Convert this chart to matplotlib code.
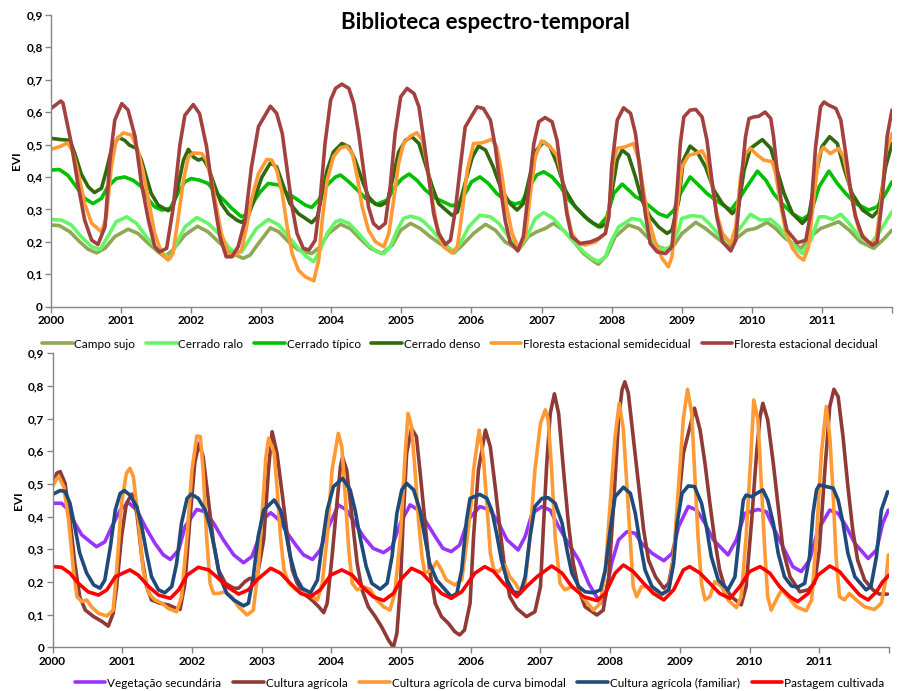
import matplotlib
matplotlib.use("Agg")
import matplotlib.pyplot as plt

# ---------------- TOP CHART DATA (EVI) ----------------
campo_t = [2000.00,2000.12,2000.27,2000.41,2000.53,2000.65,2000.77,2000.91,2001.10,2001.24,2001.39,2001.53,2001.62,2001.74,2001.91,2002.09,2002.24,2002.39,2002.55,2002.74,2002.84,2002.96,
           2003.13,2003.25,2003.39,2003.53,2003.72,2003.84,2003.96,2004.13,2004.27,2004.41,2004.56,2004.72,2004.87,2004.99,2005.13,2005.27,2005.41,2005.58,2005.75,2005.87,
           2006.03,2006.20,2006.34,2006.48,2006.67,2006.81,2006.93,2007.05,2007.17,2007.31,2007.46,2007.60,2007.72,2007.81,2007.93,2008.05,2008.24,2008.39,2008.53,2008.67,2008.77,2008.89,
           2009.00,2009.20,2009.34,2009.48,2009.67,2009.81,2009.93,2010.05,2010.22,2010.34,2010.48,2010.70,2010.84,2010.98,2011.24,2011.39,2011.55,2011.74,2011.89,2012.00]
campo_v = [0.252,0.250,0.231,0.200,0.177,0.166,0.180,0.216,0.239,0.226,0.195,0.169,0.154,0.175,0.221,0.248,0.231,0.200,0.169,0.149,0.159,0.195,
           0.243,0.231,0.200,0.175,0.164,0.185,0.226,0.254,0.241,0.210,0.180,0.164,0.190,0.236,0.257,0.241,0.216,0.190,0.166,0.190,
           0.226,0.254,0.236,0.200,0.175,0.216,0.231,0.241,0.257,0.236,0.200,0.164,0.144,0.131,0.159,0.216,0.252,0.241,0.210,0.185,0.177,0.190,
           0.225,0.260,0.241,0.216,0.185,0.216,0.236,0.241,0.260,0.241,0.210,0.180,0.216,0.241,0.262,0.236,0.200,0.180,0.210,0.236]

ralo_t = [2000.00,2000.15,2000.29,2000.43,2000.58,2000.70,2000.81,2000.93,2001.08,2001.22,2001.36,2001.50,2001.60,2001.70,2001.79,2001.91,2002.08,2002.24,2002.39,2002.53,2002.62,2002.72,2002.81,2002.93,
          2003.10,2003.25,2003.39,2003.53,2003.65,2003.75,2003.84,2003.94,2004.06,2004.13,2004.25,2004.39,2004.53,2004.65,2004.75,2004.84,2004.94,2005.03,2005.13,2005.25,2005.32,2005.44,2005.58,2005.75,2005.84,2005.96,
          2006.12,2006.27,2006.39,2006.53,2006.67,2006.79,2006.91,2007.03,2007.17,2007.31,2007.46,2007.60,2007.72,2007.81,2007.91,2008.00,2008.10,2008.29,2008.41,2008.50,2008.60,2008.72,2008.84,2008.96,
          2009.00,2009.15,2009.29,2009.39,2009.53,2009.70,2009.81,2009.98,2010.12,2010.27,2010.39,2010.53,2010.72,2010.84,2010.96,2011.05,2011.15,2011.27,2011.39,2011.53,2011.70,2011.81,2012.00]
ralo_v = [0.269,0.267,0.252,0.216,0.185,0.177,0.216,0.262,0.277,0.257,0.216,0.180,0.164,0.149,0.195,0.246,0.275,0.257,0.226,0.185,0.166,0.169,0.200,0.241,
          0.269,0.252,0.216,0.180,0.154,0.139,0.175,0.226,0.262,0.267,0.257,0.226,0.190,0.169,0.164,0.185,0.236,0.272,0.279,0.272,0.262,0.236,0.200,0.169,0.195,0.246,
          0.282,0.277,0.257,0.216,0.180,0.216,0.272,0.290,0.272,0.236,0.200,0.169,0.149,0.139,0.154,0.205,0.246,0.272,0.267,0.236,0.200,0.175,0.185,0.240,
          0.272,0.281,0.277,0.257,0.221,0.195,0.236,0.285,0.267,0.269,0.246,0.205,0.164,0.205,0.277,0.277,0.269,0.285,0.257,0.216,0.195,0.226,0.293]

tipico_t = [2000.00,2000.12,2000.24,2000.36,2000.48,2000.60,2000.72,2000.81,2000.93,2001.05,2001.17,2001.29,2001.39,2001.48,2001.58,2001.70,2001.81,2001.91,2002.00,2002.12,2002.24,2002.34,2002.46,2002.58,2002.72,2002.81,2002.91,
            2002.99,2003.10,2003.25,2003.37,2003.49,2003.63,2003.72,2003.82,2003.94,2004.06,2004.13,2004.25,2004.37,2004.49,2004.65,2004.80,2004.91,2005.01,2005.11,2005.22,2005.34,2005.49,2005.72,2005.82,2005.94,
            2006.00,2006.12,2006.24,2006.36,2006.48,2006.62,2006.72,2006.84,2006.93,2007.03,2007.15,2007.27,2007.39,2007.53,2007.67,2007.81,2007.93,2008.03,2008.15,2008.27,2008.34,2008.43,2008.55,2008.67,2008.79,2008.89,2008.98,
            2009.12,2009.24,2009.36,2009.48,2009.70,2009.81,2009.93,2010.08,2010.20,2010.31,2010.43,2010.58,2010.72,2010.84,2010.96,2011.10,2011.22,2011.34,2011.48,2011.67,2011.79,2011.91,2012.00]
tipico_v = [0.421,0.423,0.405,0.370,0.334,0.318,0.334,0.370,0.395,0.400,0.390,0.370,0.330,0.308,0.298,0.303,0.349,0.385,0.395,0.390,0.380,0.354,0.330,0.303,0.277,0.287,0.330,
            0.355,0.380,0.375,0.349,0.334,0.313,0.306,0.329,0.375,0.400,0.406,0.385,0.360,0.334,0.316,0.329,0.370,0.395,0.409,0.390,0.360,0.334,0.311,0.318,0.360,
            0.385,0.400,0.380,0.349,0.329,0.316,0.323,0.375,0.406,0.416,0.400,0.370,0.329,0.298,0.267,0.246,0.277,0.349,0.378,0.354,0.339,0.329,0.308,0.287,0.277,0.298,0.349,
            0.400,0.375,0.349,0.329,0.298,0.329,0.370,0.418,0.390,0.349,0.318,0.287,0.269,0.287,0.370,0.418,0.380,0.349,0.318,0.298,0.308,0.349,0.385]

denso_t = [2000.00,2000.15,2000.27,2000.34,2000.43,2000.53,2000.62,2000.72,2000.79,2000.86,2000.96,2001.05,2001.12,2001.22,2001.29,2001.36,2001.43,2001.53,2001.67,2001.74,2001.81,2001.89,2001.96,2002.03,2002.10,2002.17,2002.24,2002.34,2002.43,2002.53,2002.65,2002.72,2002.81,2002.91,
           2003.01,2003.13,2003.22,2003.32,2003.41,2003.53,2003.72,2003.80,2003.87,2003.94,2004.03,2004.15,2004.25,2004.34,2004.44,2004.53,2004.63,2004.70,2004.80,2004.87,2004.96,2005.06,2005.15,2005.25,2005.34,2005.44,2005.53,2005.72,2005.80,2005.87,2005.96,
           2006.01,2006.10,2006.20,2006.31,2006.43,2006.55,2006.65,2006.74,2006.84,2006.93,2007.03,2007.12,2007.22,2007.34,2007.48,2007.62,2007.74,2007.84,2007.93,2008.00,2008.08,2008.15,2008.24,2008.34,2008.43,2008.55,2008.67,2008.79,2008.86,2008.96,
           2009.02,2009.12,2009.22,2009.34,2009.46,2009.58,2009.72,2009.81,2009.89,2009.98,2010.15,2010.27,2010.36,2010.46,2010.58,2010.72,2010.81,2010.91,2011.00,2011.11,2011.22,2011.31,2011.43,2011.58,2011.72,2011.81,2011.91,2012.00]
denso_v = [0.519,0.515,0.513,0.472,0.410,0.370,0.352,0.365,0.420,0.483,0.522,0.513,0.498,0.488,0.452,0.400,0.349,0.313,0.296,0.308,0.370,0.452,0.485,0.462,0.452,0.457,0.431,0.370,0.318,0.287,0.267,0.260,0.277,0.339,
           0.400,0.443,0.431,0.370,0.318,0.287,0.259,0.277,0.349,0.421,0.477,0.503,0.493,0.452,0.390,0.339,0.316,0.312,0.323,0.390,0.477,0.513,0.524,0.503,0.441,0.370,0.318,0.282,0.292,0.349,0.421,
           0.460,0.495,0.483,0.431,0.359,0.318,0.298,0.318,0.410,0.483,0.508,0.493,0.441,0.359,0.308,0.277,0.257,0.246,0.257,0.349,0.452,0.483,0.467,0.400,0.329,0.277,0.246,0.226,0.236,0.329,
           0.450,0.495,0.477,0.431,0.359,0.318,0.287,0.308,0.421,0.488,0.515,0.488,0.421,0.349,0.287,0.257,0.277,0.400,0.493,0.524,0.503,0.431,0.349,0.298,0.277,0.298,0.431,0.503]

semidec_t = [2000.00,2000.12,2000.24,2000.31,2000.39,2000.48,2000.58,2000.72,2000.79,2000.86,2000.93,2001.03,2001.15,2001.24,2001.31,2001.39,2001.48,2001.58,2001.67,2001.74,2001.81,2001.89,2001.96,2002.03,2002.15,2002.22,2002.29,2002.36,2002.43,2002.53,2002.60,2002.72,2002.79,2002.86,2002.96,
             2003.08,2003.15,2003.22,2003.30,2003.37,2003.44,2003.53,2003.63,2003.75,2003.82,2003.87,2003.94,2004.03,2004.13,2004.22,2004.30,2004.37,2004.44,2004.53,2004.63,2004.75,2004.82,2004.89,2004.96,2005.03,2005.13,2005.22,2005.30,2005.37,2005.44,2005.51,2005.60,2005.72,2005.80,2005.87,2005.94,
             2006.03,2006.15,2006.29,2006.36,2006.43,2006.50,2006.58,2006.67,2006.77,2006.84,2006.91,2007.00,2007.10,2007.22,2007.29,2007.36,2007.43,2007.53,2007.62,2007.77,2007.91,2007.96,2008.03,2008.08,2008.20,2008.31,2008.39,2008.46,2008.53,2008.62,2008.72,2008.81,2008.86,2008.93,2009.00,
             2009.10,2009.20,2009.29,2009.36,2009.43,2009.50,2009.58,2009.70,2009.77,2009.84,2009.91,2009.98,2010.08,2010.17,2010.29,2010.34,2010.41,2010.48,2010.58,2010.67,2010.74,2010.81,2010.89,2010.96,2011.02,2011.12,2011.24,2011.31,2011.39,2011.46,2011.53,2011.67,2011.77,2011.84,2011.91,2012.00]
semidec_v = [0.485,0.493,0.505,0.478,0.410,0.318,0.257,0.231,0.277,0.430,0.513,0.536,0.529,0.483,0.420,0.330,0.226,0.164,0.144,0.164,0.267,0.390,0.462,0.474,0.472,0.452,0.390,0.308,0.226,0.164,0.156,0.175,0.246,0.330,0.410,
             0.454,0.452,0.421,0.349,0.246,0.164,0.113,0.092,0.080,0.144,0.267,0.390,0.462,0.490,0.495,0.472,0.400,0.308,0.236,0.200,0.185,0.226,0.329,0.441,0.503,0.526,0.536,0.513,0.431,0.329,0.246,0.185,0.166,0.185,0.298,0.421,
             0.503,0.505,0.516,0.493,0.410,0.308,0.226,0.180,0.216,0.349,0.462,0.511,0.498,0.467,0.400,0.298,0.226,0.195,0.190,0.200,0.226,0.298,0.452,0.488,0.493,0.503,0.452,0.349,0.267,0.200,0.149,0.123,0.154,0.298,0.430,
             0.467,0.472,0.481,0.452,0.380,0.287,0.226,0.195,0.246,0.400,0.472,0.488,0.467,0.452,0.447,0.410,0.318,0.236,0.180,0.154,0.144,0.185,0.349,0.467,0.491,0.472,0.488,0.462,0.380,0.298,0.236,0.195,0.200,0.318,0.472,0.534]

decid_t = [2000.00,2000.14,2000.17,2000.29,2000.39,2000.48,2000.58,2000.67,2000.77,2000.84,2000.91,2001.01,2001.10,2001.20,2001.29,2001.39,2001.48,2001.55,2001.65,2001.74,2001.84,2001.91,2002.03,2002.12,2002.22,2002.31,2002.41,2002.50,2002.58,2002.67,2002.77,2002.86,2002.96,
           2003.13,2003.22,2003.30,2003.37,2003.44,2003.51,2003.60,2003.68,2003.77,2003.84,2003.91,2003.99,2004.06,2004.15,2004.25,2004.32,2004.39,2004.46,2004.53,2004.60,2004.68,2004.77,2004.84,2004.91,2004.99,2005.08,2005.18,2005.25,2005.32,2005.39,2005.46,2005.53,2005.63,2005.70,2005.77,2005.84,2005.91,
           2006.08,2006.17,2006.27,2006.34,2006.41,2006.48,2006.55,2006.66,2006.74,2006.81,2006.89,2006.96,2007.05,2007.15,2007.22,2007.29,2007.36,2007.43,2007.55,2007.70,2007.81,2007.91,2007.96,2008.00,2008.08,2008.17,2008.27,2008.34,2008.41,2008.48,2008.55,2008.65,2008.77,2008.86,2008.93,2008.98,
           2009.03,2009.12,2009.20,2009.29,2009.36,2009.43,2009.50,2009.58,2009.70,2009.77,2009.84,2009.91,2009.96,2010.03,2010.10,2010.19,2010.27,2010.31,2010.36,2010.43,2010.50,2010.65,2010.77,2010.84,2010.91,2010.98,2011.03,2011.10,2011.20,2011.27,2011.34,2011.41,2011.48,2011.58,2011.72,2011.79,2011.86,2011.93,2012.00]
decid_v = [0.611,0.634,0.628,0.503,0.370,0.267,0.205,0.192,0.246,0.450,0.575,0.626,0.606,0.524,0.380,0.267,0.185,0.169,0.180,0.300,0.500,0.590,0.623,0.595,0.493,0.349,0.216,0.154,0.154,0.185,0.267,0.430,0.555,
           0.618,0.596,0.534,0.421,0.308,0.226,0.180,0.175,0.205,0.329,0.503,0.637,0.673,0.686,0.673,0.626,0.534,0.421,0.308,0.257,0.241,0.257,0.370,0.534,0.647,0.673,0.657,0.616,0.513,0.400,0.287,0.226,0.192,0.205,0.298,0.431,0.554,
           0.616,0.611,0.575,0.493,0.370,0.267,0.200,0.172,0.216,0.349,0.503,0.570,0.583,0.570,0.513,0.400,0.287,0.216,0.195,0.200,0.210,0.226,0.277,0.431,0.575,0.613,0.596,0.534,0.411,0.287,0.195,0.169,0.164,0.185,0.349,0.503,
           0.585,0.606,0.608,0.585,0.513,0.390,0.277,0.200,0.172,0.205,0.370,0.524,0.580,0.585,0.587,0.600,0.580,0.524,0.421,0.308,0.236,0.197,0.205,0.287,0.493,0.616,0.631,0.621,0.611,0.575,0.472,0.359,0.277,0.216,0.190,0.200,0.329,0.524,0.606]

# ---------------- BOTTOM CHART DATA (EVI) ----------------
vegsec_t = [2000.01,2000.13,2000.23,2000.32,2000.42,2000.63,2000.75,2000.85,2000.97,2001.09,2001.21,2001.33,2001.47,2001.59,2001.69,2001.81,2001.90,2002.07,2002.19,2002.31,2002.45,2002.60,2002.74,2002.86,2002.95,
            2003.01,2003.13,2003.25,2003.37,2003.49,2003.60,2003.73,2003.84,2003.96,2004.10,2004.22,2004.34,2004.46,2004.60,2004.75,2004.87,2004.99,2005.13,2005.25,2005.37,2005.49,2005.60,2005.72,2005.84,2005.96,
            2006.13,2006.28,2006.40,2006.52,2006.68,2006.78,2006.88,2007.02,2007.14,2007.26,2007.40,2007.55,2007.69,2007.86,2007.93,2008.02,2008.12,2008.24,2008.36,2008.45,2008.60,2008.77,2008.89,2008.98,
            2009.12,2009.24,2009.36,2009.48,2009.69,2009.81,2009.93,2010.12,2010.24,2010.36,2010.50,2010.62,2010.74,2010.86,2010.98,2011.15,2011.27,2011.39,2011.51,2011.70,2011.82,2011.91,2011.99]
vegsec_v = [0.441,0.441,0.420,0.380,0.344,0.308,0.323,0.369,0.420,0.443,0.420,0.369,0.318,0.283,0.269,0.298,0.369,0.422,0.415,0.380,0.329,0.283,0.259,0.278,0.329,
            0.390,0.412,0.390,0.349,0.313,0.283,0.269,0.298,0.369,0.436,0.420,0.380,0.339,0.303,0.290,0.308,0.380,0.436,0.420,0.380,0.339,0.303,0.293,0.313,0.390,
            0.431,0.420,0.380,0.329,0.298,0.339,0.410,0.431,0.420,0.369,0.318,0.267,0.196,0.135,0.155,0.257,0.329,0.354,0.349,0.318,0.288,0.265,0.288,0.369,
            0.431,0.420,0.380,0.329,0.283,0.329,0.410,0.422,0.415,0.359,0.298,0.247,0.232,0.267,0.359,0.420,0.410,0.369,0.318,0.272,0.298,0.380,0.420]

agri_t = [2000.01,2000.06,2000.11,2000.18,2000.25,2000.32,2000.39,2000.47,2000.59,2000.71,2000.80,2000.87,2000.92,2000.99,2001.06,2001.14,2001.21,2001.28,2001.35,2001.42,2001.54,2001.66,2001.78,2001.83,2001.90,2001.97,2002.04,2002.10,2002.16,2002.24,2002.31,2002.38,2002.48,2002.60,2002.67,2002.76,2002.83,2002.93,
          2003.03,2003.10,2003.15,2003.22,2003.30,2003.37,2003.44,2003.51,2003.60,2003.72,2003.82,2003.89,2003.94,2004.01,2004.08,2004.13,2004.16,2004.22,2004.30,2004.37,2004.44,2004.53,2004.63,2004.72,2004.82,2004.89,2004.94,2004.99,2005.03,2005.08,2005.15,2005.22,2005.27,2005.34,2005.41,2005.49,2005.58,2005.68,2005.77,2005.84,2005.91,2005.99,
          2006.04,2006.11,2006.21,2006.28,2006.35,2006.42,2006.49,2006.56,2006.66,2006.80,2006.92,2007.00,2007.04,2007.09,2007.14,2007.20,2007.26,2007.33,2007.40,2007.47,2007.55,2007.64,2007.81,2007.90,2007.98,2008.05,2008.12,2008.17,2008.21,2008.26,2008.33,2008.41,2008.48,2008.55,2008.65,2008.77,2008.84,2008.91,2008.98,2009.05,
          2009.21,2009.29,2009.36,2009.43,2009.50,2009.57,2009.64,2009.74,2009.88,2009.95,2010.03,2010.10,2010.15,2010.19,2010.26,2010.34,2010.41,2010.48,2010.58,2010.72,2010.84,2010.93,2011.00,2011.08,2011.15,2011.21,2011.27,2011.34,2011.41,2011.48,2011.55,2011.65,2011.77,2011.86,2011.98]
agri_v = [0.502,0.533,0.538,0.502,0.390,0.257,0.155,0.114,0.094,0.079,0.065,0.104,0.186,0.339,0.441,0.469,0.410,0.278,0.186,0.145,0.135,0.130,0.119,0.116,0.196,0.390,0.563,0.624,0.584,0.441,0.318,0.237,0.196,0.181,0.181,0.201,0.211,0.210,
          0.330,0.550,0.660,0.594,0.461,0.339,0.237,0.196,0.165,0.145,0.124,0.106,0.135,0.278,0.441,0.553,0.582,0.543,0.390,0.257,0.176,0.124,0.094,0.063,0.022,0.000,0.043,0.186,0.390,0.594,0.670,0.645,0.543,0.390,0.237,0.135,0.094,0.073,0.048,0.038,0.053,0.135,
          0.339,0.543,0.665,0.614,0.492,0.359,0.237,0.155,0.119,0.094,0.109,0.186,0.359,0.563,0.716,0.776,0.716,0.543,0.380,0.257,0.176,0.124,0.099,0.114,0.216,0.441,0.696,0.788,0.813,0.778,0.645,0.492,0.359,0.267,0.216,0.181,0.196,0.278,0.441,0.594,
          0.732,0.665,0.563,0.441,0.329,0.237,0.186,0.155,0.130,0.186,0.390,0.594,0.706,0.747,0.696,0.563,0.431,0.298,0.216,0.170,0.176,0.196,0.298,0.543,0.737,0.790,0.767,0.645,0.492,0.359,0.267,0.206,0.176,0.163,0.163]

bimod_t = [2000.00,2000.06,2000.09,2000.16,2000.23,2000.30,2000.35,2000.42,2000.49,2000.56,2000.66,2000.78,2000.87,2000.92,2000.99,2001.06,2001.11,2001.16,2001.23,2001.30,2001.38,2001.47,2001.57,2001.66,2001.78,2001.85,2001.93,2002.00,2002.07,2002.12,2002.16,2002.21,2002.26,2002.31,2002.38,2002.48,2002.57,2002.67,2002.79,2002.88,2002.95,2003.02,
           2003.06,2003.10,2003.18,2003.22,2003.27,2003.32,2003.39,2003.49,2003.60,2003.72,2003.80,2003.87,2003.94,2004.01,2004.10,2004.15,2004.20,2004.25,2004.30,2004.37,2004.46,2004.56,2004.65,2004.75,2004.84,2004.91,2004.99,2005.06,2005.10,2005.15,2005.20,2005.25,2005.30,2005.34,2005.44,2005.51,2005.58,2005.65,2005.77,2005.87,2005.94,2006.01,
           2006.04,2006.12,2006.18,2006.23,2006.28,2006.33,2006.40,2006.49,2006.56,2006.64,2006.71,2006.78,2006.85,2006.92,2007.00,2007.07,2007.11,2007.16,2007.21,2007.28,2007.35,2007.45,2007.55,2007.64,2007.76,2007.86,2007.93,2008.00,2008.07,2008.13,2008.19,2008.24,2008.29,2008.33,2008.38,2008.45,2008.53,2008.62,2008.74,2008.84,2008.91,2008.98,
           2009.05,2009.11,2009.17,2009.21,2009.26,2009.31,2009.36,2009.43,2009.50,2009.60,2009.69,2009.81,2009.88,2009.95,2010.02,2010.06,2010.12,2010.17,2010.22,2010.26,2010.31,2010.38,2010.46,2010.55,2010.67,2010.81,2010.89,2010.96,2011.03,2011.10,2011.15,2011.20,2011.24,2011.29,2011.36,2011.43,2011.53,2011.65,2011.79,2011.89,2011.96,2011.99]
bimod_v = [0.492,0.517,0.522,0.492,0.390,0.237,0.155,0.140,0.145,0.124,0.104,0.096,0.114,0.237,0.441,0.533,0.548,0.522,0.390,0.237,0.165,0.145,0.135,0.119,0.109,0.155,0.339,0.543,0.647,0.645,0.543,0.339,0.196,0.165,0.165,0.170,0.155,0.124,0.099,0.114,0.237,0.450,
           0.580,0.640,0.594,0.492,0.339,0.237,0.196,0.176,0.165,0.155,0.145,0.196,0.339,0.543,0.655,0.614,0.461,0.298,0.196,0.176,0.186,0.176,0.145,0.124,0.114,0.165,0.339,0.594,0.716,0.676,0.543,0.390,0.278,0.227,0.237,0.262,0.237,0.206,0.191,0.206,0.318,0.450,
           0.543,0.665,0.584,0.441,0.288,0.237,0.232,0.252,0.216,0.196,0.170,0.196,0.339,0.543,0.686,0.727,0.696,0.543,0.339,0.196,0.176,0.186,0.170,0.145,0.114,0.135,0.237,0.441,0.645,0.747,0.665,0.492,0.318,0.186,0.155,0.186,0.186,0.176,0.160,0.176,0.278,0.492,
           0.700,0.790,0.716,0.543,0.339,0.196,0.145,0.155,0.201,0.186,0.145,0.122,0.155,0.339,0.594,0.757,0.696,0.492,0.288,0.155,0.114,0.145,0.176,0.155,0.124,0.112,0.145,0.339,0.594,0.737,0.645,0.461,0.278,0.155,0.145,0.165,0.145,0.124,0.116,0.135,0.216,0.283]

famil_t = [2000.01,2000.11,2000.18,2000.25,2000.32,2000.39,2000.49,2000.59,2000.68,2000.75,2000.83,2000.90,2000.97,2001.03,2001.11,2001.21,2001.28,2001.35,2001.42,2001.52,2001.61,2001.71,2001.78,2001.85,2001.93,2001.99,2002.09,2002.19,2002.26,2002.33,2002.40,2002.50,2002.60,2002.74,2002.81,2002.88,2002.95,2003.03,
           2003.18,2003.27,2003.34,2003.41,2003.49,2003.58,2003.70,2003.80,2003.87,2003.94,2004.03,2004.16,2004.27,2004.34,2004.41,2004.50,2004.58,2004.70,2004.80,2004.87,2004.94,2005.01,2005.08,2005.18,2005.27,2005.34,2005.41,2005.51,2005.72,2005.80,2005.87,2005.94,
           2005.99,2006.13,2006.23,2006.30,2006.37,2006.44,2006.52,2006.61,2006.71,2006.78,2006.85,2006.92,2007.02,2007.11,2007.21,2007.31,2007.38,2007.45,2007.55,2007.64,2007.76,2007.86,2007.93,2008.00,2008.07,2008.19,2008.29,2008.36,2008.43,2008.50,2008.60,2008.74,2008.84,2008.91,2008.96,2009.03,
           2009.12,2009.21,2009.31,2009.38,2009.45,2009.55,2009.69,2009.79,2009.86,2009.91,2009.95,2010.03,2010.10,2010.19,2010.26,2010.34,2010.41,2010.50,2010.60,2010.69,2010.79,2010.86,2010.91,2010.96,2011.00,2011.10,2011.20,2011.27,2011.34,2011.41,2011.51,2011.67,2011.74,2011.82,2011.89,2011.98]
famil_v = [0.469,0.480,0.477,0.441,0.369,0.288,0.227,0.191,0.181,0.206,0.308,0.420,0.471,0.480,0.466,0.430,0.369,0.288,0.216,0.176,0.167,0.186,0.257,0.380,0.456,0.469,0.456,0.420,0.369,0.298,0.216,0.165,0.145,0.127,0.135,0.216,0.339,0.420,
           0.451,0.420,0.359,0.278,0.216,0.181,0.167,0.206,0.318,0.420,0.492,0.517,0.482,0.420,0.339,0.247,0.196,0.178,0.196,0.278,0.410,0.482,0.502,0.482,0.420,0.339,0.257,0.206,0.155,0.165,0.237,0.390,
           0.456,0.468,0.456,0.420,0.349,0.267,0.206,0.170,0.165,0.216,0.339,0.431,0.456,0.458,0.441,0.380,0.298,0.227,0.186,0.170,0.167,0.176,0.237,0.359,0.461,0.490,0.471,0.410,0.318,0.237,0.186,0.163,0.176,0.257,0.380,0.471,
           0.494,0.492,0.441,0.369,0.278,0.206,0.176,0.216,0.359,0.451,0.466,0.461,0.471,0.482,0.451,0.380,0.288,0.216,0.188,0.184,0.196,0.278,0.410,0.482,0.497,0.492,0.487,0.451,0.380,0.288,0.216,0.176,0.186,0.278,0.420,0.476]

past_t = [2000.01,2000.13,2000.25,2000.37,2000.51,2000.66,2000.78,2000.90,2001.11,2001.23,2001.38,2001.52,2001.69,2001.81,2001.93,2002.09,2002.24,2002.38,2002.50,2002.67,2002.81,2002.93,
          2003.13,2003.27,2003.41,2003.56,2003.70,2003.84,2003.99,2004.15,2004.30,2004.44,2004.60,2004.75,2004.89,2005.01,2005.15,2005.30,2005.44,2005.58,2005.72,2005.87,
          2006.06,2006.20,2006.33,2006.47,2006.66,2006.80,2006.95,2007.16,2007.31,2007.45,2007.62,2007.81,2007.93,2008.07,2008.19,2008.33,2008.48,2008.62,2008.77,2008.91,2009.05,
          2009.14,2009.29,2009.43,2009.57,2009.72,2009.86,2010.00,2010.15,2010.29,2010.43,2010.58,2010.69,2010.84,2010.98,2011.15,2011.29,2011.43,2011.58,2011.70,2011.82,2011.91,2012.00]
past_v = [0.247,0.245,0.227,0.196,0.170,0.160,0.176,0.216,0.237,0.221,0.186,0.160,0.150,0.176,0.221,0.245,0.237,0.211,0.186,0.163,0.176,0.206,
          0.242,0.227,0.196,0.165,0.155,0.176,0.221,0.237,0.221,0.186,0.155,0.143,0.165,0.211,0.242,0.227,0.196,0.165,0.150,0.170,
          0.227,0.247,0.232,0.196,0.155,0.186,0.216,0.249,0.227,0.186,0.155,0.143,0.165,0.227,0.252,0.232,0.196,0.165,0.145,0.176,0.237,
          0.247,0.227,0.196,0.165,0.150,0.186,0.232,0.247,0.227,0.186,0.155,0.140,0.165,0.221,0.249,0.232,0.196,0.160,0.145,0.170,0.201,0.221]

years = list(range(2000, 2013))
year_labels = [str(y) for y in range(2000, 2012)] + [""]
yticks = [0, 0.1, 0.2, 0.3, 0.4, 0.5, 0.6, 0.7, 0.8, 0.9]
ytick_labels = ["0", "0,1", "0,2", "0,3", "0,4", "0,5", "0,6", "0,7", "0,8", "0,9"]

top_series = [
    ("Campo sujo", campo_t, campo_v, "#8FA854"),
    ("Cerrado ralo", ralo_t, ralo_v, "#66F566"),
    ("Cerrado típico", tipico_t, tipico_v, "#00C000"),
    ("Cerrado denso", denso_t, denso_v, "#306A0C"),
    ("Floresta estacional semidecidual", semidec_t, semidec_v, "#FF9A35"),
    ("Floresta estacional decidual", decid_t, decid_v, "#A3413F"),
]
bottom_series = [
    ("Vegetação secundária", vegsec_t, vegsec_v, "#9A34FA"),
    ("Cultura agrícola", agri_t, agri_v, "#903A36"),
    ("Cultura agrícola de curva bimodal", bimod_t, bimod_v, "#FF9A35"),
    ("Cultura agrícola (familiar)", famil_t, famil_v, "#1F4A7C"),
    ("Pastagem cultivada", past_t, past_v, "#FF0000"),
]

plt.rcParams['font.family'] = ['Lato', 'DejaVu Sans']

fig = plt.figure(figsize=(8.98, 6.91), dpi=100)
ax1 = fig.add_axes([0.0568, 0.5561, 0.9365, 0.4226])
ax2 = fig.add_axes([0.0585, 0.0632, 0.9315, 0.4255])

def style(ax):
    ax.set_xlim(2000, 2012)
    ax.set_ylim(0, 0.9)
    for s in ("top", "right"):
        ax.spines[s].set_visible(False)
    for s in ("left", "bottom"):
        ax.spines[s].set_color("#868686")
        ax.spines[s].set_linewidth(1.0)
    ax.set_xticks(years)
    ax.set_xticklabels(year_labels, fontsize=8.5, fontweight="bold")
    ax.set_yticks(yticks)
    ax.set_yticklabels(ytick_labels, fontsize=8.5, fontweight="bold")
    ax.tick_params(axis="both", direction="out", length=4, width=1, color="#868686", pad=2)
    ax.set_ylabel("EVI", fontsize=8.5, fontweight="bold", labelpad=3)

lw = 2.6
h1 = []
for name, t, v, c in top_series:
    ln, = ax1.plot(t, v, color=c, lw=lw, solid_joinstyle="round", solid_capstyle="round", label=name)
    h1.append(ln)
h2 = []
for name, t, v, c in bottom_series:
    ln, = ax2.plot(t, v, color=c, lw=lw, solid_joinstyle="round", solid_capstyle="round", label=name)
    h2.append(ln)

style(ax1)
style(ax2)

fig.text(0.541, 0.968, "Biblioteca espectro-temporal", ha="center", va="center",
         fontsize=16, fontweight="bold")

fig.legend(handles=h1, loc="center", bbox_to_anchor=(0.512, 0.502), ncol=6, frameon=False,
           fontsize=8.5, handlelength=2.6, handletextpad=0.15, columnspacing=0.9, borderpad=0)
fig.legend(handles=h2, loc="center", bbox_to_anchor=(0.534, 0.0116), ncol=5, frameon=False,
           fontsize=8.5, handlelength=2.6, handletextpad=0.15, columnspacing=1.0, borderpad=0)

fig.savefig("out.png", dpi=100)
